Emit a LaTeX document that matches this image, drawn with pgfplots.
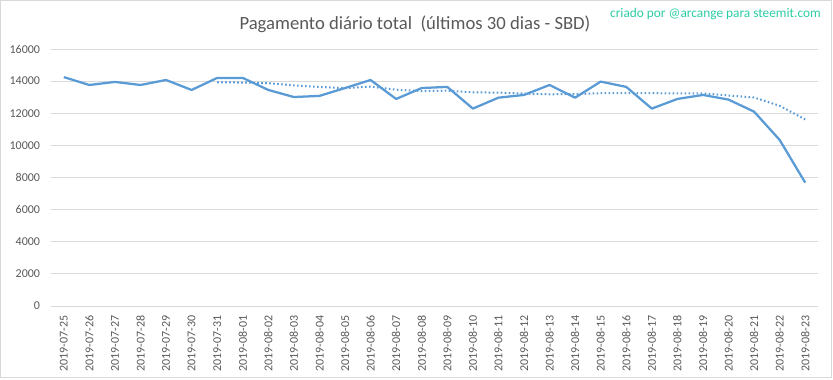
\documentclass[border=0pt]{standalone}
\usepackage{pgfplots}
\pgfplotsset{compat=1.18}
\usepackage{pgfplotstable}
\usepackage{fontspec}
\setmainfont{Carlito}
\definecolor{linec}{HTML}{5B9BD5}
\definecolor{gridc}{HTML}{D9D9D9}
\definecolor{txtc}{HTML}{595959}
\definecolor{wmc}{HTML}{2CCCA4}
\pgfplotstableread{
x y
0 14250
1 13760
2 13950
3 13760
4 14070
5 13450
6 14200
7 14200
8 13450
9 13010
10 13080
11 13570
12 14070
13 12890
14 13570
15 13640
16 12290
17 12970
18 13140
19 13760
20 12970
21 13970
22 13640
23 12290
24 12890
25 13140
26 12850
27 12100
28 10340
29 7680
}\daily
\pgfplotstableread{
x y
6 13920
7 13913
8 13869
9 13734
10 13637
11 13566
12 13654
13 13467
14 13377
15 13404
16 13301
17 13286
18 13224
19 13180
20 13191
21 13249
22 13249
23 13249
24 13237
25 13237
26 13107
27 12983
28 12464
29 11613
}\mavg
\begin{document}
\begin{tikzpicture}
\begin{scope}[x=0.75pt,y=0.75pt]
\useasboundingbox (0,0) rectangle (833,379);
\draw[gridc,line width=0.75pt] (0.5,1.5) rectangle (831.5,378.5);
\node[txtc,font=\fontsize{14pt}{16pt}\selectfont,anchor=base] at (415,349) {Pagamento diário total\ \ (últimos 30 dias - SBD)};
\node[wmc,font=\fontsize{10pt}{12pt}\selectfont,anchor=base east,inner sep=0pt] at (821,361.5) {criado por @arcange para steemit.com};
\end{scope}
\begin{axis}[
  at={(38.25pt,54.75pt)}, anchor=south west,
  scale only axis, width=575.25pt, height=192.75pt,
  xmin=-0.5, xmax=29.5, ymin=0, ymax=16000,
  xtick={0,...,29},
  xticklabels={2019-07-25,2019-07-26,2019-07-27,2019-07-28,2019-07-29,2019-07-30,2019-07-31,2019-08-01,2019-08-02,2019-08-03,2019-08-04,2019-08-05,2019-08-06,2019-08-07,2019-08-08,2019-08-09,2019-08-10,2019-08-11,2019-08-12,2019-08-13,2019-08-14,2019-08-15,2019-08-16,2019-08-17,2019-08-18,2019-08-19,2019-08-20,2019-08-21,2019-08-22,2019-08-23},
  xticklabel style={rotate=90,anchor=east,font=\fontsize{9pt}{10pt}\selectfont,text=txtc,inner sep=0pt},
  ytick={0,2000,...,16000},
  yticklabel style={font=\fontsize{9pt}{10pt}\selectfont,text=txtc,inner sep=0pt},
  /pgf/number format/assume math mode=true,
  scaled y ticks=false,
  yticklabel={\pgfmathprintnumber[fixed,1000 sep={}]{\tick}},
  xtick style={draw=none}, ytick style={draw=none},
  major tick length=0pt,
  xticklabel shift=7pt, yticklabel shift=8pt,
  ymajorgrids, grid style={gridc,line width=0.75pt},
  axis lines*=left,
  y axis line style={draw=none},
  x axis line style={gridc,line width=0.75pt,-},
  clip=false,
]
\addplot[linec,line width=1.7pt,line join=round] table[x=x,y=y]{\daily};
\addplot[linec,line width=1.5pt,dash pattern=on 1.2pt off 1.8pt] table[x=x,y=y]{\mavg};
\end{axis}
\end{tikzpicture}
\end{document}
